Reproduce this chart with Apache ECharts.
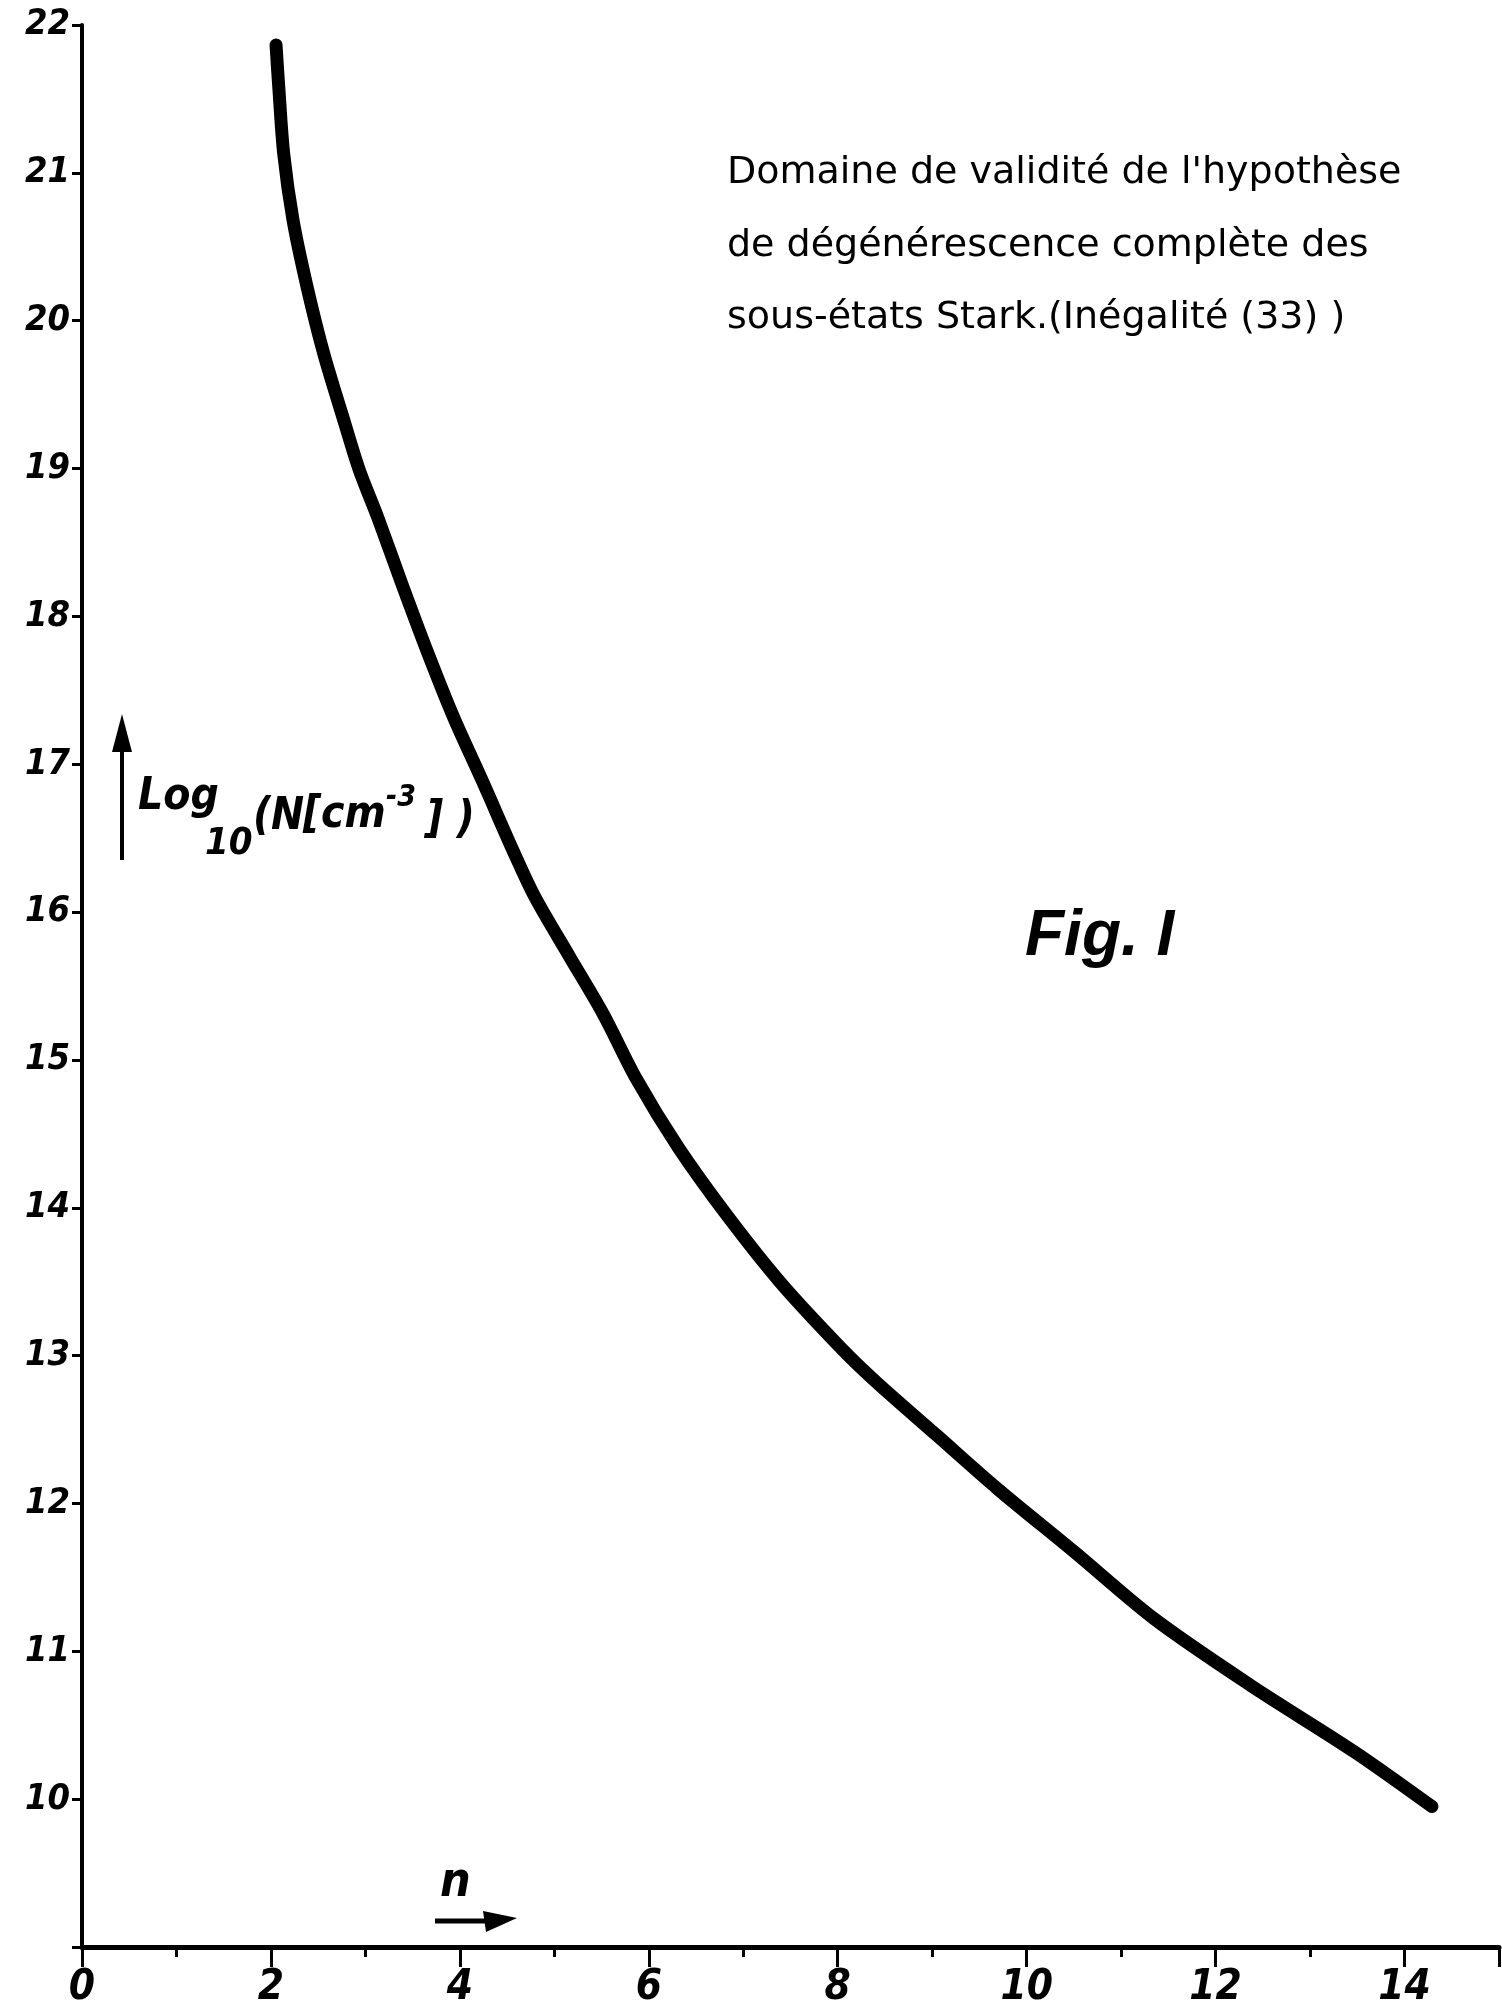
<!DOCTYPE html>
<html><head><meta charset="utf-8">
<script src="https://cdn.jsdelivr.net/npm/echarts@6/dist/echarts.min.js"></script>
<style>html,body{margin:0;padding:0;background:#fff}#c{width:1502px;height:2009px}</style>
</head><body><div id="c"></div>
<script>
// Curve: log10(N [cm^-3]) as a function of n
const nValues    = [2.054, 2.083, 2.135, 2.234, 2.382, 2.558, 2.77, 2.93, 3.13, 3.386, 3.65, 3.932, 4.25, 4.567, 4.796, 5.16, 5.518, 5.87, 6.31, 6.82, 7.386, 8.037, 8.41, 9.05, 9.69, 10.50, 11.35, 12.37, 13.47, 14.29];
const logNValues = [21.865, 21.58, 21.13, 20.68, 20.23, 19.78, 19.33, 19.0, 18.67, 18.22, 17.77, 17.32, 16.87, 16.41, 16.10, 15.70, 15.31, 14.87, 14.41, 13.955, 13.50, 13.05, 12.82, 12.46, 12.10, 11.675, 11.22, 10.77, 10.32, 9.95];
const xTickLabels = [0, 2, 4, 6, 8, 10, 12, 14];
const yTickLabels = [10, 11, 12, 13, 14, 15, 16, 17, 18, 19, 20, 21, 22];
const noteLines = ["Domaine de validité de l'hypothèse", "de dégénérescence complète des", "sous-états Stark.(Inégalité (33) )"];

const chart = echarts.init(document.getElementById('c'), null, {renderer: 'canvas'});
const narrow = '"Liberation Sans Narrow", "DejaVu Sans Condensed", sans-serif';
const hand = (size) => 'italic bold ' + size + 'px ' + narrow;
const txt = (text, x, y, size) => ({type: 'text', x: x, y: y,
  style: {text: text, fill: '#000', font: hand(size), verticalAlign: 'middle', align: 'left'}});

chart.setOption({
  backgroundColor: '#fff',
  animation: false,
  grid: {left: 82, right: 0, top: 25, bottom: 58, containLabel: false},
  xAxis: {
    type: 'value', min: 0, max: 15, interval: 2,
    axisLine: {show: true, onZero: false, lineStyle: {color: '#000', width: 5}},
    axisTick: {show: true, length: 20, lineStyle: {color: '#000', width: 3}},
    minorTick: {show: true, splitNumber: 2, length: 10, lineStyle: {color: '#000', width: 3}},
    splitLine: {show: false},
    axisLabel: {
      margin: 20, color: '#000', fontSize: 42, fontWeight: 'bold', fontStyle: 'italic',
      fontFamily: narrow,
      formatter: v => xTickLabels.includes(v) ? String(v) : ''
    }
  },
  yAxis: {
    type: 'value', min: 9, max: 22, interval: 1,
    axisLine: {show: true, onZero: false, lineStyle: {color: '#000', width: 4}},
    axisTick: {show: true, length: 10, lineStyle: {color: '#000', width: 3}},
    splitLine: {show: false},
    axisLabel: {
      margin: 12, color: '#000', fontSize: 36, fontWeight: 'bold', fontStyle: 'italic',
      fontFamily: narrow, padding: [0, 0, 12, 0],
      formatter: v => yTickLabels.includes(v) ? String(v) : ''
    }
  },
  series: [{
    type: 'line', smooth: 0.3, symbol: 'none',
    data: nValues.map((n, i) => [n, logNValues[i]]),
    lineStyle: {color: '#000', width: 13, cap: 'round', join: 'round'}
  }],
  graphic: [
    {type: 'text', left: 727, top: 137, style: {
      text: noteLines.join('\n'), fill: '#000', lineHeight: 72.5,
      font: '38px "DejaVu Sans", sans-serif'}},
    {type: 'text', x: 1025, y: 937, style: {
      text: 'Fig. I', fill: '#000', verticalAlign: 'middle',
      font: 'italic bold 64px "Liberation Sans", sans-serif'}},
    // y-axis name with arrow
    {type: 'line', shape: {x1: 122, y1: 860, x2: 122, y2: 745}, style: {stroke: '#000', lineWidth: 4}},
    {type: 'polygon', shape: {points: [[112, 752], [122, 714], [132, 752]]}, style: {fill: '#000'}},
    txt('Log', 138, 798, 44),
    txt('10', 205, 844, 38),
    txt('(N', 253, 818, 44),
    txt('[cm', 303, 816, 44),
    txt('-3', 386, 798, 30),
    txt('] )', 425, 821, 44),
    // x-axis name with arrow
    txt('n', 440, 1884, 48),
    {type: 'line', shape: {x1: 435, y1: 1921, x2: 490, y2: 1921}, style: {stroke: '#000', lineWidth: 5}},
    {type: 'polygon', shape: {points: [[483, 1911], [517, 1918], [486, 1932]]}, style: {fill: '#000'}}
  ]
});
</script></body></html>
